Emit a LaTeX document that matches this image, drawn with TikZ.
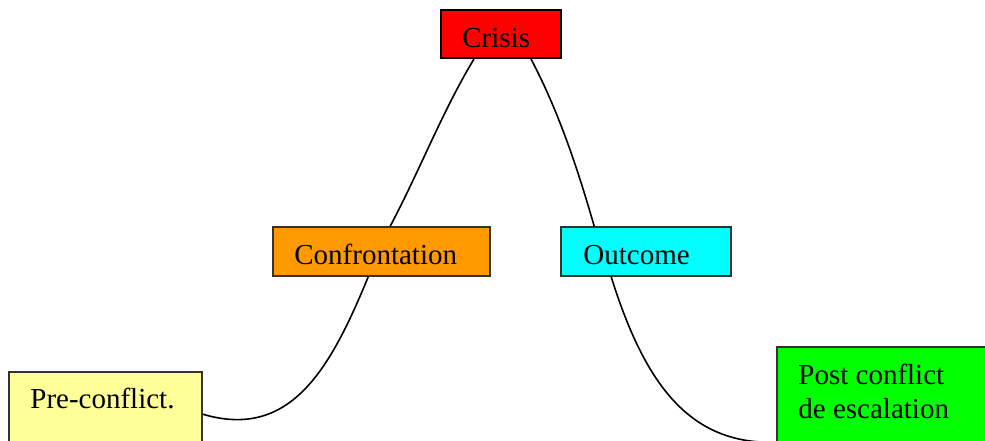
\documentclass[tikz,border=0pt]{standalone}
\usepackage{fontspec}
\setmainfont{Liberation Serif}
\usetikzlibrary{fit,calc}
\definecolor{cpre}{HTML}{FFFF99}
\definecolor{cconf}{HTML}{FF9900}
\definecolor{ccris}{HTML}{FF0000}
\definecolor{coutc}{HTML}{00FFFF}
\definecolor{cpost}{HTML}{00FF00}
\begin{document}
\begin{tikzpicture}[x=0.5pt,y=-0.5pt,
  box/.style={draw=black!80,line width=0.8pt,inner sep=0pt,rectangle},
  lbl/.style={inner sep=0pt,anchor=base west,font=\fontsize{14.5}{17}\selectfont},
  curve/.style={draw=black,line width=0.8pt}]
\useasboundingbox (0,0) rectangle (985,440);
\clip (0,0) rectangle (985,440);
% box corners
\coordinate (p1) at (9,372);   \coordinate (p2) at (202,480);
\coordinate (f1) at (273,227); \coordinate (f2) at (490,276);
\coordinate (c1) at (441,10);  \coordinate (c2) at (561,58);
\coordinate (o1) at (561,227); \coordinate (o2) at (731,276);
\coordinate (q1) at (777,347); \coordinate (q2) at (1000,480);
\node[box,fill=cpre,fit=(p1)(p2)] (pre) {};
\node[box,fill=cconf,fit=(f1)(f2)] (conf) {};
\node[box,fill=ccris,draw=black,line width=1pt,fit=(c1)(c2)] (crisis) {};
\node[box,fill=coutc,fit=(o1)(o2)] (outc) {};
\node[box,fill=cpost,fit=(q1)(q2)] (post) {};
% labels
\node[lbl] (preT) at (30,408) {Pre-conflict.};
\node[lbl] (confT) at (294,264) {Confrontation};
\node[lbl] (crisisT) at (462,47) {Crisis};
\node[lbl] (outcT) at (583,264) {Outcome};
\node[lbl] (postT1) at (798,384) {Post conflict};
\node[lbl] (postT2) at (798,418) {de escalation};
% curve segments
\draw[curve] ($(pre.north east)+(0,43)$) .. controls (290,440) and (330,370) .. ($(conf.south west)+(96,0)$);
\draw[curve] ($(conf.north west)+(118,0)$) .. controls (420,170) and (442,112) .. ($(crisis.south west)+(34,0)$);
\draw[curve] ($(crisis.south west)+(91,0)$) .. controls (559,112) and (578,170) .. ($(outc.north west)+(34,0)$);
\draw[curve] ($(outc.south west)+(51,0)$) .. controls (645,385) and (690,445) .. ($(post.north west)+(0,96)$);
\end{tikzpicture}
\end{document}
